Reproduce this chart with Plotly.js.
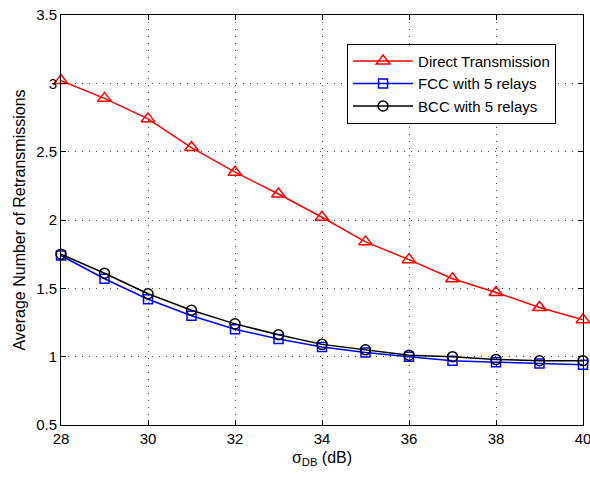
<!DOCTYPE html>
<html>
<head>
<meta charset="utf-8">
<script src="https://cdn.plot.ly/plotly-3.0.1.min.js"></script>
<style>html,body{margin:0;padding:0;background:#fff}#chart{width:590px;height:478px}</style>
</head>
<body>
<div id="chart"></div>
<script>
const sigmaDB = [28, 29, 30, 31, 32, 33, 34, 35, 36, 37, 38, 39, 40];
const directTx = [3.02, 2.89, 2.74, 2.53, 2.35, 2.19, 2.02, 1.84, 1.71, 1.57, 1.47, 1.36, 1.27];
const fcc5 = [1.74, 1.57, 1.42, 1.30, 1.20, 1.13, 1.07, 1.03, 1.00, 0.97, 0.96, 0.95, 0.94];
const bcc5 = [1.75, 1.61, 1.46, 1.34, 1.24, 1.16, 1.09, 1.05, 1.01, 1.00, 0.98, 0.97, 0.97];
const xTicks = [28, 30, 32, 34, 36, 38, 40];
const yTicks = [0.5, 1, 1.5, 2, 2.5, 3, 3.5];

const FONT = 'Liberation Sans, Arial, sans-serif';

const traces = [
  {x: sigmaDB, y: directTx, name: 'Direct Transmission', mode: 'lines+markers', cliponaxis: false,
   line: {color: '#ff0000', width: 1.5},
   marker: {symbol: 'triangle-up-open', size: 12, color: '#ff0000', line: {width: 1.5, color: '#ff0000'}}},
  {x: sigmaDB, y: fcc5, name: 'FCC with 5 relays', mode: 'lines+markers', cliponaxis: false,
   line: {color: '#0000ff', width: 1.5},
   marker: {symbol: 'square-open', size: 9, color: '#0000ff', line: {width: 1.5, color: '#0000ff'}}},
  {x: sigmaDB, y: bcc5, name: 'BCC with 5 relays', mode: 'lines+markers', cliponaxis: false,
   line: {color: '#000000', width: 1.5},
   marker: {symbol: 'circle-open', size: 10, color: '#000000', line: {width: 1.5, color: '#000000'}}}
];

const axisCommon = {
  showline: true, linecolor: '#000', linewidth: 1, mirror: 'ticks',
  ticks: 'inside', ticklen: 5, tickcolor: '#000',
  showgrid: true, gridcolor: '#444', griddash: '1px,6px', gridwidth: 1,
  zeroline: false, ticklabeloverflow: 'allow',
  tickfont: {family: FONT, size: 15, color: '#000'}
};

const layout = {
  width: 590, height: 478,
  margin: {l: 61, r: 7, t: 15, b: 53},
  paper_bgcolor: '#fff', plot_bgcolor: '#fff',
  font: {family: FONT, color: '#000'},
  showlegend: true,
  xaxis: Object.assign({}, axisCommon, {
    range: [28, 40], tickvals: xTicks, ticktext: xTicks.map(String),
    title: {text: 'σ<sub>DB</sub> (dB)', font: {family: FONT, size: 16, color: '#000'}, standoff: 5}
  }),
  yaxis: Object.assign({}, axisCommon, {
    range: [0.5, 3.5], tickvals: yTicks, ticktext: yTicks.map(String),
    title: {text: 'Average Number of Retransmissions', font: {family: FONT, size: 16, color: '#000'}, standoff: 6}
  }),
  legend: {
    x: 0.548, y: 0.93, xanchor: 'left', yanchor: 'top',
    bgcolor: '#fff', bordercolor: '#000', borderwidth: 1,
    font: {family: FONT, size: 15, color: '#000'},
    itemwidth: 60
  }
};

Plotly.newPlot('chart', traces, layout, {displayModeBar: false, staticPlot: true});
</script>
</body>
</html>
